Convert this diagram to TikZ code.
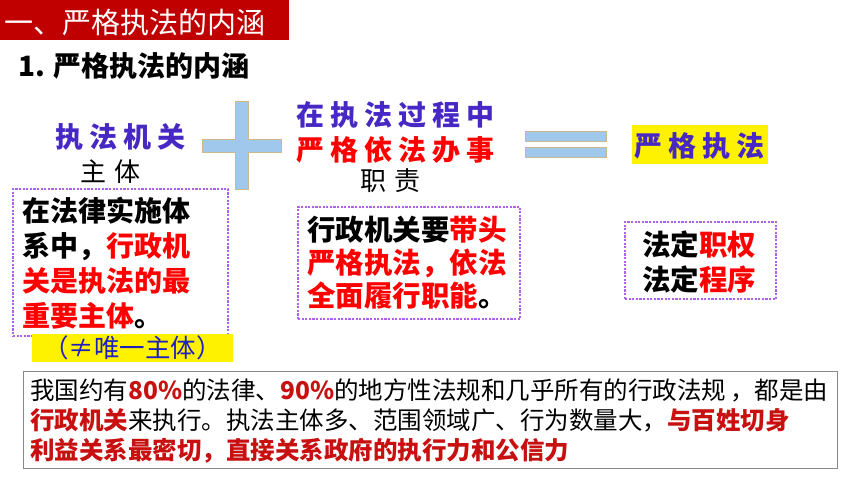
\documentclass[tikz,border=0pt]{standalone}
\usepackage{fontspec}
\setmainfont{Noto Sans CJK SC}
\usepackage{xcolor}
\usetikzlibrary{positioning}
\definecolor{titlered}{RGB}{192,0,0}
\definecolor{hotred}{RGB}{255,0,0}
\definecolor{darkred}{RGB}{200,16,16}
\definecolor{lawpurple}{RGB}{72,40,196}
\definecolor{dotpurple}{RGB}{176,96,240}
\definecolor{notblue}{RGB}{32,32,190}
\definecolor{barblue}{RGB}{160,200,236}
\definecolor{bartan}{RGB}{204,184,136}
\definecolor{framegray}{RGB}{136,136,136}
\newcommand{\fsz}[2]{\fontsize{#1pt}{#2pt}\selectfont}
\newcommand{\gp}{\hspace{6pt}}

\begin{document}
\begin{tikzpicture}
    [x=1pt,y=-1pt,
    lbl/.style = {inner sep=0pt,anchor=west,align=left},
    head/.style = {lbl,font=\fsz{28}{34}\bfseries,text=lawpurple},
    dotbox/.style = {draw=dotpurple,line width=2.2pt,dash pattern=on 2.2pt off 1.4pt,inner sep=0pt},
    bar/.style = {fill=barblue,draw=bartan,line width=1pt},
    hilite/.style = {fill=yellow,inner sep=0pt}
    ]
\useasboundingbox[fill=white] (0,0) rectangle (860,484);

% title
\fill[titlered] (0,0) rectangle (289,40);
\node[lbl,text=white,font=\fsz{29}{34}] (title) at (4,22) {一、严格执法的内涵};
\node[lbl,font=\fsz{28}{34}\bfseries] (sub) at (18,66) {1. 严格执法的内涵};

% subject
\node[head] (organ) at (55,137) {执\gp 法\gp 机\gp 关};
\node[lbl,font=\fsz{26}{32}] (subj) at (80,172) {主\hspace{8pt}体};
\node[dotbox,minimum width=215pt,minimum height=147pt] (subjbox) at (120.5,262.5) {};
\node[lbl,font=\fsz{28}{35}\bfseries] (subjtext) at (22,263)
    {在法律实施体\\系中，\textcolor{hotred}{行政机}\\\textcolor{hotred}{关是执法的最}\\\textcolor{hotred}{重要主体}。};
\node[hilite,minimum width=201pt,minimum height=28pt] (notonly) at (132.5,348) {};
\node[lbl,text=notblue,font=\fsz{25.5}{30}] (notonlytext) at (43,348) {（≠唯一主体）};

% plus
\draw[bar] (235,102) -- (248,102) -- (248,140) -- (281,140) -- (281,153) -- (248,153)
    -- (248,190) -- (235,190) -- (235,153) -- (202,153) -- (202,140) -- (235,140) -- cycle;

% duty
\node[head] (process) at (296,115) {在\gp 执\gp 法\gp 过\gp 程\gp 中};
\node[head,text=hotred] (dolaw) at (296,150) {严\gp 格\gp 依\gp 法\gp 办\gp 事};
\node[lbl,font=\fsz{26}{32}] (duty) at (360,181) {职\hspace{8pt}责};
\node[dotbox,minimum width=222pt,minimum height=112pt] (dutybox) at (409,263) {};
\node[lbl,font=\fsz{28.5}{33}\bfseries] (dutytext) at (307,263)
    {行政机关要\textcolor{hotred}{带头}\\\textcolor{hotred}{严格执法，依法}\\\textcolor{hotred}{全面履行职能}。};

% equals
\draw[bar] (525,132) rectangle (606,142);
\draw[bar] (525,148) rectangle (606,158);

% result
\node[hilite,minimum width=136pt,minimum height=39pt] (strict) at (700,145) {};
\node[head] (stricttext) at (634,146) {严\gp 格\gp 执\gp 法};
\node[dotbox,minimum width=151pt,minimum height=77pt] (resultbox) at (700.5,260.5) {};
\node[lbl,font=\fsz{28.5}{35}\bfseries] (resulttext) at (642,262)
    {法定\textcolor{hotred}{职权}\\法定\textcolor{hotred}{程序}};

% note
\node[draw=framegray,line width=1pt,minimum width=814pt,minimum height=97pt,inner sep=0pt] (notebox) at (430,419.5) {};
\node[lbl,font=\fsz{24.5}{30}] (notetext) at (30,421)
    {我国约有\textcolor{darkred}{\bfseries 80\%}的法律、\textcolor{darkred}{\bfseries 90\%}的地方性法规和几乎所有的行政法规\,，都是由\\
     \textcolor{darkred}{\bfseries 行政机关}来执行。执法主体多、范围领域广、行为数量大，\textcolor{darkred}{\bfseries 与百姓切身}\\
     \textcolor{darkred}{\bfseries 利益关系最密切，直接关系政府的执行力和公信力}};

\end{tikzpicture}
\end{document}
